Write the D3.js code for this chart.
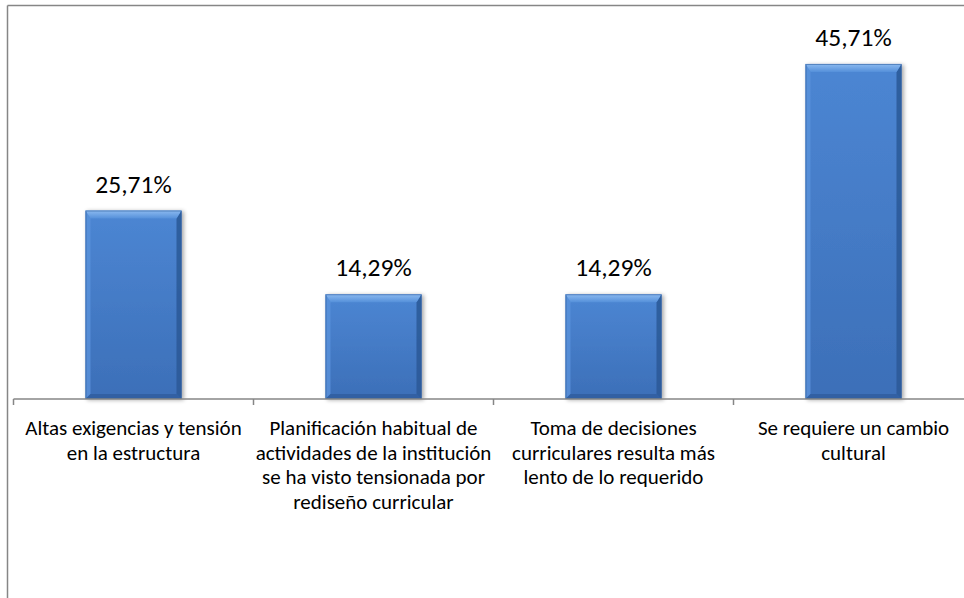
<!DOCTYPE html>
<html>
<head>
<meta charset="utf-8">
<script src="https://cdn.jsdelivr.net/npm/d3@7"></script>
<style>
  html, body { margin: 0; padding: 0; background: #ffffff; }
  svg { display: block; font-family: Carlito, Calibri, Lato, "Open Sans", sans-serif; }
</style>
</head>
<body>
<svg id="chart" width="964" height="598"></svg>
<script>
// Categories (label lines) and percentages
const categories = [
  ["Altas exigencias y tensión", "en la estructura"],
  ["Planificación habitual de", "actividades de la institución", "se ha visto tensionada por", "rediseño curricular"],
  ["Toma de decisiones", "curriculares resulta más", "lento de lo requerido"],
  ["Se requiere un cambio", "cultural"]
];
const values = [25.71, 14.29, 14.29, 45.71];
const valueLabels = ["25,71%", "14,29%", "14,29%", "45,71%"];
const yDomain = [0, 50];

const svg = d3.select("#chart");
const W = 964, H = 598;

const x = d3.scaleBand()
  .domain(d3.range(categories.length))
  .range([13.5, 973.5])
  .paddingInner(0.6)
  .paddingOuter(0.3);

const y = d3.scaleLinear().domain(yDomain).range([399, 32.5]);

const defs = svg.append("defs");

// Main bar fill: vertical blue gradient
const g = defs.append("linearGradient").attr("id", "barFill")
  .attr("x1", 0).attr("y1", 0).attr("x2", 0).attr("y2", 1);
g.append("stop").attr("offset", "0%").attr("stop-color", "#4c86d3");
g.append("stop").attr("offset", "100%").attr("stop-color", "#3c6fb8");

const topG = defs.append("linearGradient").attr("id", "topBevel")
  .attr("x1", 0).attr("y1", 0).attr("x2", 0).attr("y2", 1);
topG.append("stop").attr("offset", "0%").attr("stop-color", "#8cbaf0");
topG.append("stop").attr("offset", "100%").attr("stop-color", "#5590da");

const shadow = defs.append("filter").attr("id", "shadow")
  .attr("x", "-20%").attr("y", "-20%").attr("width", "140%").attr("height", "140%");
shadow.append("feGaussianBlur").attr("in", "SourceAlpha").attr("stdDeviation", 2).attr("result", "b");
shadow.append("feOffset").attr("in", "b").attr("dx", 2).attr("dy", 1).attr("result", "o");
shadow.append("feComponentTransfer").attr("in", "o").attr("result", "s")
  .append("feFuncA").attr("type", "linear").attr("slope", 0.35);
const fm = shadow.append("feMerge");
fm.append("feMergeNode").attr("in", "s");
fm.append("feMergeNode").attr("in", "SourceGraphic");

// Chart frame (top and left edges)
svg.append("line").attr("x1", 7.5).attr("x2", W).attr("y1", 5.5).attr("y2", 5.5)
  .attr("stroke", "#868686").attr("stroke-width", 1.5);
svg.append("line").attr("x1", 7.5).attr("x2", 7.5).attr("y1", 5.5).attr("y2", H)
  .attr("stroke", "#868686").attr("stroke-width", 1.5);

// Bars with bevelled edges
const bars = svg.append("g").selectAll("g.bar")
  .data(values)
  .join("g").attr("class", "bar").attr("filter", "url(#shadow)");

bars.each(function(v, i) {
  const gg = d3.select(this);
  const x0 = x(i), x1 = x(i) + x.bandwidth();
  const y0 = y(v), y1 = y(0);
  const t = 8, s = 5, b = 5;
  gg.append("rect").attr("x", x0).attr("y", y0)
    .attr("width", x1 - x0).attr("height", y1 - y0)
    .attr("fill", "url(#barFill)");
  // left bevel
  gg.append("polygon")
    .attr("points", [[x0, y0], [x0 + s, y0 + t], [x0 + s, y1 - b], [x0, y1]].join(" "))
    .attr("fill", "#5a92db").attr("opacity", 0.8);
  // right bevel
  gg.append("polygon")
    .attr("points", [[x1, y0], [x1 - s, y0 + t], [x1 - s, y1 - b], [x1, y1]].join(" "))
    .attr("fill", "#2a5897").attr("opacity", 0.85);
  // bottom bevel
  gg.append("polygon")
    .attr("points", [[x0, y1], [x0 + s, y1 - b], [x1 - s, y1 - b], [x1, y1]].join(" "))
    .attr("fill", "#2d5c9e").attr("opacity", 0.8);
  // top bevel
  gg.append("polygon")
    .attr("points", [[x0, y0], [x1, y0], [x1 - s, y0 + t], [x0 + s, y0 + t]].join(" "))
    .attr("fill", "url(#topBevel)");
  gg.append("rect").attr("x", x0 + 0.5).attr("y", y0 + 0.5)
    .attr("width", x1 - x0 - 1).attr("height", y1 - y0 - 1)
    .attr("fill", "none").attr("stroke", "#2f5f9f").attr("stroke-width", 1).attr("opacity", 0.6);
});

// Value labels
svg.append("g").selectAll("text")
  .data(values)
  .join("text")
  .attr("x", (d, i) => x(i) + x.bandwidth() / 2)
  .attr("y", d => y(d) - 18)
  .attr("text-anchor", "middle")
  .attr("font-size", 25.5)
  .attr("fill", "#000")
  .text((d, i) => valueLabels[i]);

// Category axis
const axis = d3.axisBottom(x).tickSize(0).tickFormat("");
const ax = svg.append("g").attr("transform", "translate(0,399)").call(axis);
ax.select(".domain").remove();
const [r0, r1] = x.range();
ax.append("line").attr("x1", r0).attr("x2", r1).attr("y1", 0).attr("y2", 0)
  .attr("stroke", "#868686").attr("stroke-width", 1.5);
// tick marks between categories
const boundaries = d3.range(categories.length + 1).map(i => r0 + i * x.step());
ax.selectAll("line.bnd").data(boundaries).join("line").attr("class", "bnd")
  .attr("x1", d => d).attr("x2", d => d).attr("y1", 0).attr("y2", 6)
  .attr("stroke", "#868686").attr("stroke-width", 1.5);

const labels = svg.append("g").selectAll("text")
  .data(categories)
  .join("text")
  .attr("text-anchor", "middle")
  .attr("font-size", 21)
  .attr("fill", "#000");
labels.each(function(lines, i) {
  const cx = x(i) + x.bandwidth() / 2;
  d3.select(this).selectAll("tspan").data(lines).join("tspan")
    .attr("x", cx)
    .attr("y", (d, j) => 435 + j * 24.5)
    .text(d => d);
});
</script>
</body>
</html>
